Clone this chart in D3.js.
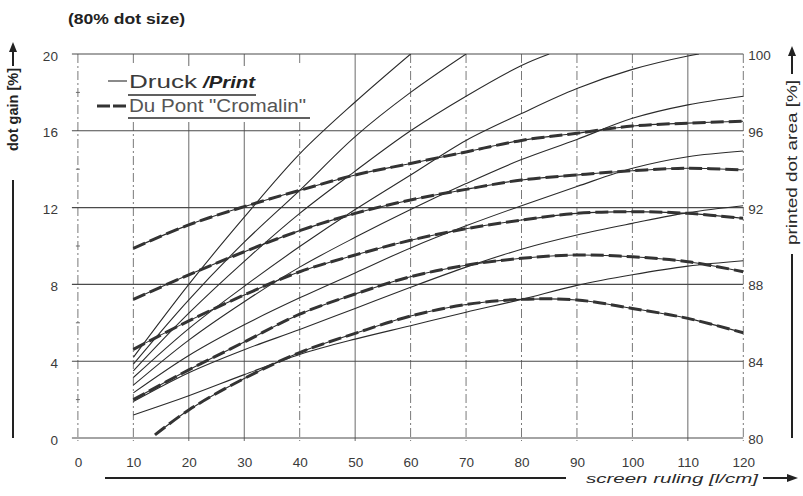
<!DOCTYPE html>
<html>
<head>
<meta charset="utf-8">
<script src="https://cdn.jsdelivr.net/npm/d3@7/dist/d3.min.js"></script>
<style>
  html, body { margin: 0; padding: 0; background: #fff; }
  svg { display: block; }
  text { font-family: "Liberation Sans", Arial, sans-serif; }
</style>
</head>
<body>
<svg id="chart" width="803" height="496"></svg>
<script>
// ---------- data ----------
const xTicks = [0, 10, 20, 30, 40, 50, 60, 70, 80, 90, 100, 110, 120];
const yTicksLeft = [0, 4, 8, 12, 16, 20];
const yTicksRight = [80, 84, 88, 92, 96, 100];
const minorTicks = [2, 6, 10, 14, 18];
const solidGridX = [20, 30, 50, 110];

// Druck / Print curves (screen ruling, dot gain)
const print1 = [[10,4.2],[20,8.0],[30,11.5],[40,14.8],[50,17.5],[60,20.0]];
const print2 = [[10,3.85],[20,7.2],[30,10.2],[40,12.9],[50,15.7],[60,18.0],[70,20.0]];
const print3 = [[10,3.5],[20,6.5],[30,9.2],[40,11.7],[50,13.9],[60,16.0],[70,17.8],[80,19.4],[85,20.0]];
const print4 = [[10,3.15],[20,5.7],[30,7.9],[40,9.97],[50,11.9],[60,13.7],[70,15.5],[80,16.9],[90,18.2],[100,19.2],[110,19.9],[112,20.0]];
const print5 = [[10,2.75],[20,5.1],[30,7.1],[40,8.9],[50,10.45],[60,11.9],[70,13.25],[80,14.5],[90,15.55],[100,16.65],[110,17.35],[120,17.8]];
const print6 = [[10,2.35],[20,4.3],[30,5.9],[40,7.3],[50,8.6],[60,9.9],[70,11.05],[80,12.1],[90,13.1],[100,14.05],[110,14.65],[120,14.95]];
const print7 = [[10,1.9],[20,3.4],[30,4.6],[40,5.65],[50,6.75],[60,7.85],[70,8.9],[80,9.83],[90,10.57],[100,11.18],[110,11.74],[120,12.1]];
const print8 = [[10,1.2],[20,2.2],[30,3.3],[40,4.35],[50,5.15],[60,5.85],[70,6.55],[80,7.22],[90,7.95],[100,8.5],[110,8.95],[120,9.23]];

// Du Pont "Cromalin" curves
const cromalin1 = [[10,9.88],[20,11.1],[30,12.05],[40,12.9],[50,13.7],[60,14.3],[70,14.9],[80,15.5],[90,15.87],[100,16.25],[110,16.4],[120,16.5]];
const cromalin2 = [[10,7.22],[20,8.5],[30,9.7],[40,10.8],[50,11.7],[60,12.4],[70,12.95],[80,13.44],[90,13.7],[100,13.92],[110,14.05],[120,13.96]];
const cromalin3 = [[10,4.62],[20,6.1],[30,7.45],[40,8.66],[50,9.53],[60,10.3],[70,10.9],[80,11.35],[90,11.7],[100,11.79],[110,11.7],[120,11.44]];
const cromalin4 = [[10,2.0],[20,3.55],[30,5.0],[40,6.45],[50,7.5],[60,8.4],[70,9.0],[80,9.36],[90,9.53],[100,9.44],[110,9.18],[120,8.66]];
const cromalin5 = [[13.9,0.16],[20,1.46],[30,3.1],[40,4.45],[50,5.45],[60,6.35],[70,6.95],[80,7.22],[90,7.19],[100,6.75],[110,6.23],[120,5.48]];

const printSeries = [print1, print2, print3, print4, print5, print6, print7, print8];
const cromalinSeries = [cromalin1, cromalin2, cromalin3, cromalin4, cromalin5];

// ---------- drawing ----------
const svg = d3.select("#chart");
const x = d3.scaleLinear().domain([0, 120]).range([77.9, 743.3]);
const y = d3.scaleLinear().domain([0, 20]).range([438, 54]);
const yR = d3.scaleLinear().domain([80, 100]).range([438, 54]);

const ink = "#2b2b2b";
const grid = "#6a6a6a";

svg.append("defs").append("clipPath").attr("id", "plotclip")
  .append("rect").attr("x", x(0)).attr("y", y(20)).attr("width", x(120) - x(0)).attr("height", y(0) - y(20));

// vertical grid
svg.append("g").selectAll("line").data(xTicks).join("line")
  .attr("x1", d => x(d)).attr("x2", d => x(d))
  .attr("y1", y(20)).attr("y2", y(0) + 3)
  .attr("stroke", grid)
  .attr("stroke-width", d => solidGridX.includes(d) ? 1 : 0.9)
  .attr("stroke-dasharray", d => solidGridX.includes(d) ? null : "9,3,2,3");

// horizontal grid
svg.append("g").selectAll("line").data(yTicksLeft).join("line")
  .attr("x1", x(0) - 6).attr("x2", x(120))
  .attr("y1", d => y(d)).attr("y2", d => y(d))
  .attr("stroke", "#4a4a4a").attr("stroke-width", 1.1);

// minor ticks
svg.append("g").selectAll("line").data(minorTicks).join("line")
  .attr("x1", x(0) - 2).attr("x2", x(0) + 2)
  .attr("y1", d => y(d)).attr("y2", d => y(d))
  .attr("stroke", grid).attr("stroke-width", 1);

// axes (labels)
const axB = svg.append("g").attr("transform", `translate(0,${y(0) + 19})`)
  .call(d3.axisBottom(x).tickValues(xTicks).tickSize(0).tickPadding(0));
const axL = svg.append("g").attr("transform", `translate(${x(0) - 20},0)`)
  .call(d3.axisLeft(y).tickValues(yTicksLeft).tickSize(0).tickPadding(0));
const axR = svg.append("g").attr("transform", `translate(${x(120) + 5},0)`)
  .call(d3.axisRight(yR).tickValues(yTicksRight).tickSize(0).tickPadding(0));
[axB, axL, axR].forEach(a => {
  a.select(".domain").remove();
  a.selectAll("text").attr("font-size", 13.5).attr("fill", "#3a3a3a")
    .attr("font-family", "'Liberation Sans', Arial, sans-serif");
});
axL.selectAll("text").attr("dy", "0.45em");
axR.selectAll("text").attr("dy", "0.4em");

// curves
const line = d3.line().x(d => x(d[0])).y(d => y(d[1])).curve(d3.curveCatmullRom.alpha(0.5));
const curves = svg.append("g").attr("clip-path", "url(#plotclip)");
curves.selectAll("path.print").data(printSeries).join("path")
  .attr("class", "print").attr("d", line)
  .attr("fill", "none").attr("stroke", ink).attr("stroke-width", 1.1);
curves.selectAll("path.cromthin").data(cromalinSeries).join("path")
  .attr("class", "cromthin").attr("d", line)
  .attr("fill", "none").attr("stroke", ink).attr("stroke-width", 1.1);
curves.selectAll("path.crom").data(cromalinSeries).join("path")
  .attr("class", "crom").attr("d", line)
  .attr("fill", "none").attr("stroke", "#333").attr("stroke-width", 3)
  .attr("stroke-dasharray", "13,5");

// title
svg.append("text").attr("x", 68).attr("y", 24)
  .attr("font-size", 15).attr("font-weight", "bold").attr("fill", "#222")
  .attr("textLength", 117).attr("lengthAdjust", "spacingAndGlyphs")
  .text("(80% dot size)");

// legend
const lg = svg.append("g");
lg.append("rect").attr("x", 96).attr("y", 66).attr("width", 218).attr("height", 56).attr("fill", "#fff");
lg.append("line").attr("x1", 108).attr("x2", 127).attr("y1", 81).attr("y2", 81)
  .attr("stroke", ink).attr("stroke-width", 1.1);
lg.append("text").attr("x", 129).attr("y", 88).attr("font-size", 18).attr("fill", "#3a3a3a")
  .attr("textLength", 68).attr("lengthAdjust", "spacingAndGlyphs").text("Druck");
lg.append("text").attr("x", 203).attr("y", 88).attr("font-size", 17)
  .attr("font-family", "'Liberation Serif', serif").attr("font-weight", "bold").attr("font-style", "italic")
  .attr("fill", "#222").attr("textLength", 52).attr("lengthAdjust", "spacingAndGlyphs").text("/Print");
lg.append("line").attr("x1", 128).attr("x2", 256).attr("y1", 95).attr("y2", 95)
  .attr("stroke", ink).attr("stroke-width", 1.6);
lg.append("line").attr("x1", 97).attr("x2", 127).attr("y1", 106).attr("y2", 106)
  .attr("stroke", "#333").attr("stroke-width", 3).attr("stroke-dasharray", "13,3");
lg.append("text").attr("x", 129).attr("y", 112).attr("font-size", 18).attr("fill", "#555")
  .attr("textLength", 177).attr("lengthAdjust", "spacingAndGlyphs").text("Du Pont \"Cromalin\"");
lg.append("line").attr("x1", 128).attr("x2", 310).attr("y1", 118).attr("y2", 118)
  .attr("stroke", ink).attr("stroke-width", 1.6);

// arrow head helper (pointing up)
const arrowUp = (g, cx, tipY) => {
  g.append("path").attr("d", `M${cx},${tipY} L${cx - 4},${tipY + 10} L${cx + 4},${tipY + 10} Z`).attr("fill", "#222");
};

// left axis title
const la = svg.append("g");
la.append("line").attr("x1", 13).attr("x2", 13).attr("y1", 66).attr("y2", 50).attr("stroke", "#222").attr("stroke-width", 2);
arrowUp(la, 13, 42);
la.append("text").attr("transform", "translate(18,151) rotate(-90)")
  .attr("font-size", 14).attr("font-weight", "bold").attr("fill", "#222")
  .attr("textLength", 83).attr("lengthAdjust", "spacingAndGlyphs").text("dot gain [%]");
la.append("line").attr("x1", 13).attr("x2", 13).attr("y1", 180).attr("y2", 438).attr("stroke", "#222").attr("stroke-width", 2);

// right axis title
const ra = svg.append("g");
ra.append("line").attr("x1", 792).attr("x2", 792).attr("y1", 74).attr("y2", 55).attr("stroke", "#222").attr("stroke-width", 2);
arrowUp(ra, 792, 46);
ra.append("text").attr("transform", "translate(797,245) rotate(-90)")
  .attr("font-size", 14).attr("fill", "#2a2a2a")
  .attr("textLength", 165).attr("lengthAdjust", "spacingAndGlyphs").text("printed dot area [%]");
ra.append("line").attr("x1", 792).attr("x2", 792).attr("y1", 254).attr("y2", 438).attr("stroke", "#222").attr("stroke-width", 2);

// bottom axis title
const ba = svg.append("g");
ba.append("line").attr("x1", 105).attr("x2", 566).attr("y1", 478).attr("y2", 478).attr("stroke", "#222").attr("stroke-width", 2);
ba.append("text").attr("x", 586).attr("y", 483)
  .attr("font-size", 13.5).attr("font-style", "italic").attr("fill", "#2a2a2a")
  .attr("textLength", 172).attr("lengthAdjust", "spacingAndGlyphs").text("screen ruling [l/cm]");
ba.append("line").attr("x1", 763).attr("x2", 788).attr("y1", 478).attr("y2", 478).attr("stroke", "#222").attr("stroke-width", 2);
ba.append("path").attr("d", "M798,478 L787,474 L787,482 Z").attr("fill", "#222");
</script>
</body>
</html>
